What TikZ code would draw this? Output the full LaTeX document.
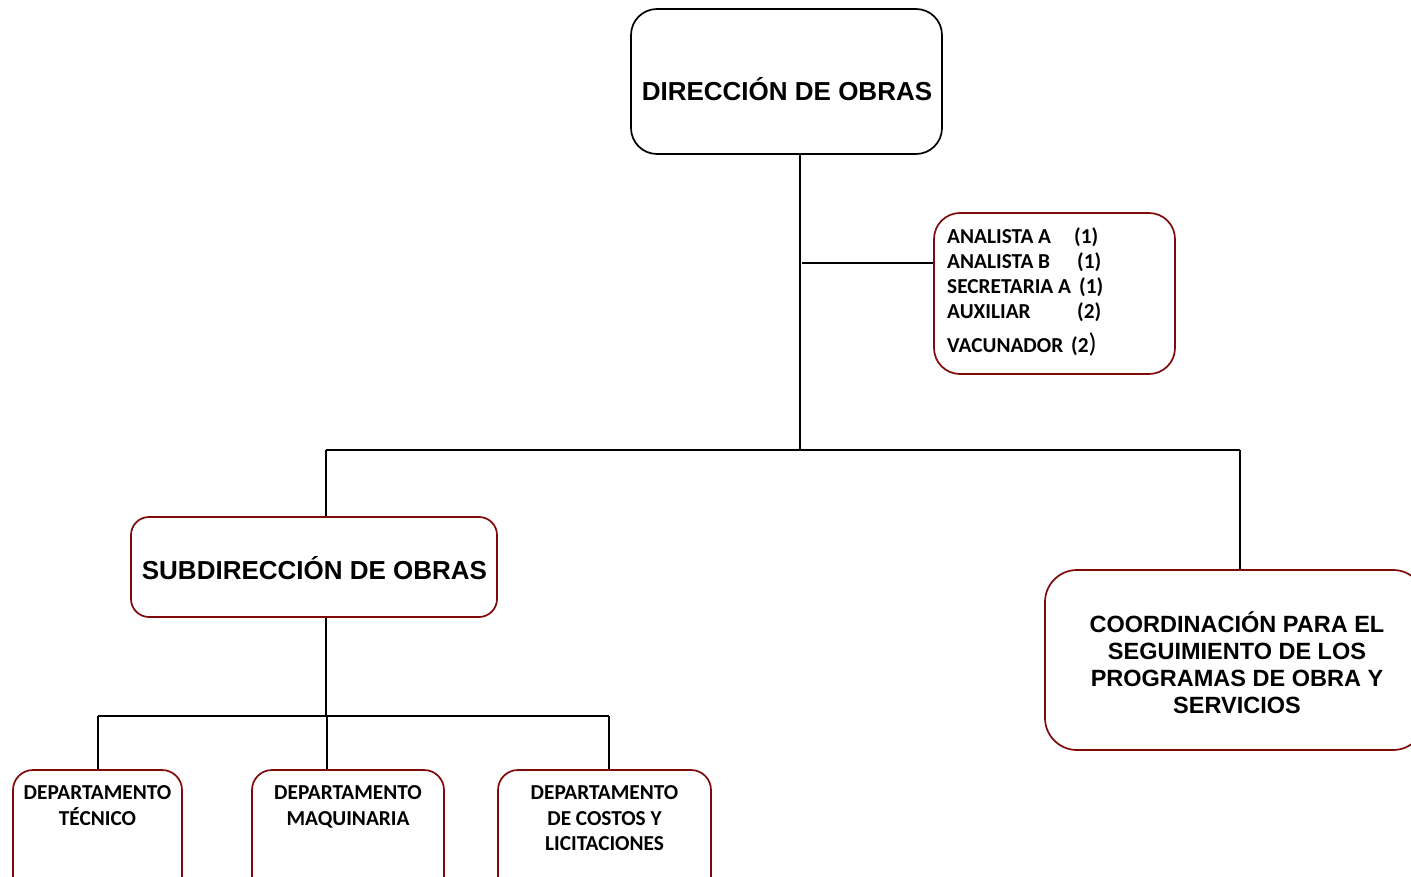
\documentclass[tikz,border=0pt]{standalone}
\usepackage{fontspec}
\setmainfont{Liberation Sans}
\newfontfamily\calib{Carlito}
\definecolor{boxred}{RGB}{128,10,10}
\begin{document}
\begin{tikzpicture}[x=1pt,y=-1pt,
  box/.style={draw,line width=1.7pt,rounded corners=#1,inner sep=0pt},
  box/.default=22pt,
  redbox/.style={box=#1,draw=boxred},
  redbox/.default=22pt,
  big/.style={font=\fontsize{26}{27}\selectfont\bfseries,inner sep=0pt,anchor=base},
  small/.style={font=\calib\fontsize{21.3}{25.5}\selectfont\bfseries,inner sep=0pt},
  conn/.style={line width=1.7pt}]
\useasboundingbox (0,0) rectangle (1411,877);
% boxes
\node[box=26pt,minimum width=311pt,minimum height=145pt] (dir) at (786.5,81.5) {};
\node[redbox=26pt,minimum width=241pt,minimum height=161pt] (ana) at (1054.5,293.5) {};
\node[redbox=18pt,minimum width=366pt,minimum height=100pt] (sub) at (314,567) {};
\node[redbox=32pt,minimum width=380pt,minimum height=180pt] (coo) at (1235,660) {};
\node[redbox=20pt,minimum width=169pt,minimum height=130pt] (dt) at (97.5,835) {};
\node[redbox=20pt,minimum width=192pt,minimum height=130pt] (dm) at (348,835) {};
\node[redbox=20pt,minimum width=213pt,minimum height=130pt] (dc) at (604.5,835) {};
% texts
\node[big] (tdir) at (787,101) {DIRECCIÓN DE OBRAS};
\node[big] (tsub) at (314.5,579) {SUBDIRECCIÓN DE OBRAS};
\node[font=\fontsize{23.5}{27}\selectfont\bfseries,inner sep=0pt,align=center] (tcoo) at (1237,663) {COORDINACIÓN PARA EL\\SEGUIMIENTO DE LOS\\PROGRAMAS DE OBRA Y\\SERVICIOS};
\node[small,anchor=base west] (l1) at (947,243.5) {\makebox[127pt][l]{ANALISTA A}(1)};
\node[small,anchor=base west] (l2) at (947,268.5) {\makebox[130pt][l]{ANALISTA B}(1)};
\node[small,anchor=base west] (l3) at (947,293.5) {\makebox[132pt][l]{SECRETARIA A}(1)};
\node[small,anchor=base west] (l4) at (947,318.5) {\makebox[130pt][l]{AUXILIAR}(2)};
\node[small,anchor=base west] (l5) at (947,352.5) {\makebox[124pt][l]{VACUNADOR}(2{\fontsize{27}{27}\selectfont\mdseries)}};
\node[small,anchor=north,align=center] (tdt) at (97.5,785.5) {DEPARTAMENTO\\TÉCNICO};
\node[small,anchor=north,align=center] (tdm) at (348,785.5) {DEPARTAMENTO\\MAQUINARIA};
\node[small,anchor=north,align=center] (tdc) at (604.5,785.5) {DEPARTAMENTO\\DE COSTOS Y\\LICITACIONES};
% connector coordinates
\coordinate (j1) at (800,450);
\coordinate (a1) at (802,263);
\coordinate (b1) at (326,450);
\coordinate (b2) at (1240,450);
\coordinate (c0) at (326,716);
\coordinate (c1) at (98,716);
\coordinate (c2) at (327,716);
\coordinate (c3) at (609,716);
% connectors
\draw[conn] (dir.south -| j1) -- (j1);
\draw[conn] (a1) -- (a1 -| ana.west);
\draw[conn] (b1) -- (b2);
\draw[conn] (b1) -- (b1 |- sub.north);
\draw[conn] (b2) -- (b2 |- coo.north);
\draw[conn] (sub.south -| c0) -- (c0);
\draw[conn] (c1) -- (c3);
\draw[conn] (c1) -- (c1 |- dt.north);
\draw[conn] (c2) -- (c2 |- dm.north);
\draw[conn] (c3) -- (c3 |- dc.north);
\end{tikzpicture}
\end{document}
